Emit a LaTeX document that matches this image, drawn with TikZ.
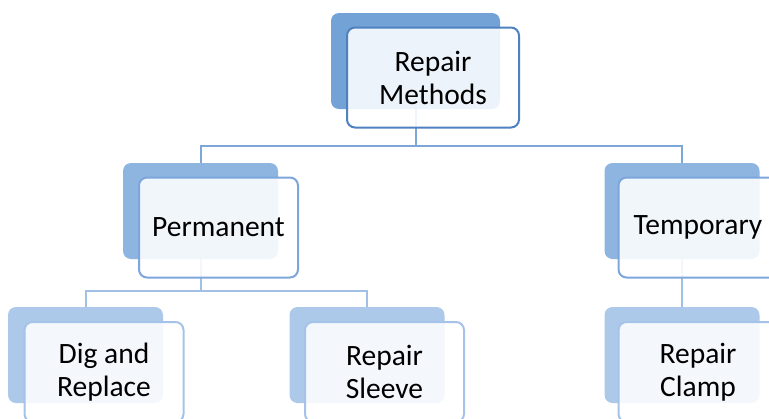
\documentclass[tikz,border=0pt]{standalone}
\usepackage{fontspec}
\setmainfont{Carlito}
\usetikzlibrary{positioning,calc}
\definecolor{backA}{RGB}{114,162,214}
\definecolor{backB}{RGB}{141,181,224}
\definecolor{backC}{RGB}{172,201,233}
\definecolor{edgeA}{RGB}{79,129,192}
\definecolor{edgeB}{RGB}{125,166,220}
\definecolor{edgeC}{RGB}{165,195,232}
\definecolor{linkA}{RGB}{125,167,216}
\definecolor{linkB}{RGB}{160,192,228}

\begin{document}
\begin{tikzpicture}[x=1pt, y=-1pt,
    backbox/.style={rectangle, rounded corners=8pt, inner sep=0,
      minimum width=155pt, minimum height=96pt},
    frontbox/.style={rectangle, rounded corners=8pt, inner sep=0, line width=2pt,
      minimum width=159pt, minimum height=100pt, fill=white, fill opacity=0.88,
      text opacity=1, align=center, font=\fontsize{29.5}{33}\selectfont},
    link/.style={line width=2pt}]
  \useasboundingbox (0,0) rectangle (769,418);
  \clip (0,0) rectangle (769,418);
  % back boxes
  \node[backbox, fill=backA, minimum width=169pt] (methods-b) at (415.5,61) {};
  \node[backbox, fill=backB] (perm-b) at (200.5,211) {};
  \node[backbox, fill=backB] (temp-b) at (682,211) {};
  \node[backbox, fill=backC] (dig-b) at (85.5,355) {};
  \node[backbox, fill=backC] (sleeve-b) at (367,355) {};
  \node[backbox, fill=backC] (clamp-b) at (682,355) {};
  % connectors
  \draw[link, linkA] (methods-b.south) -- ++(0,37) -| (perm-b.north);
  \draw[link, linkA] (methods-b.south) -- ++(0,37) -| (temp-b.north);
  \draw[link, linkB] (perm-b.south) -- ++(0,32) -| (dig-b.north);
  \draw[link, linkB] (perm-b.south) -- ++(0,32) -| (sleeve-b.north);
  \draw[link, linkB] (temp-b.south) -- (clamp-b.north);
  % front boxes
  \node[frontbox, draw=edgeA, minimum width=172pt] (methods) at (433,77.5) {Repair\\Methods};
  \node[frontbox, draw=edgeB] (perm) at (218.5,227.5) {Permanent};
  \node[frontbox, draw=edgeB] (temp) at (698,227.5) {Temporary};
  \node[frontbox, draw=edgeC] (dig) at (104,372) {Dig and\\Replace};
  \node[frontbox, draw=edgeC] (sleeve) at (384.5,372) {Repair\\Sleeve};
  \node[frontbox, draw=edgeC] (clamp) at (698,372) {Repair\\Clamp};
\end{tikzpicture}
\end{document}
